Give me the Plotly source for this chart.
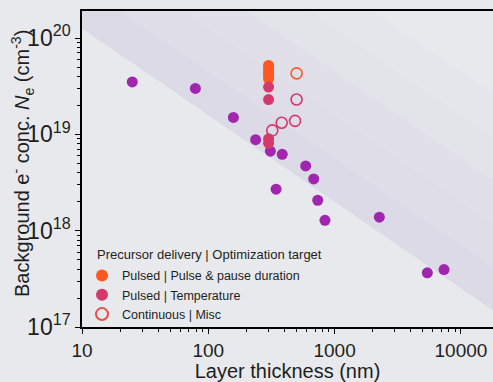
import numpy as np
import plotly.graph_objects as go

# Layer thickness (nm) and background electron concentration (cm^-3)
other_x = [25, 79, 158, 237, 310, 385, 344, 590, 683, 735, 839, 2260, 5420, 7350]
other_y = [3.5e19, 3.0e19, 1.5e19, 8.8e18, 6.7e18, 6.2e18, 2.7e18, 4.7e18, 3.45e18,
           2.07e18, 1.28e18, 1.38e18, 3.65e17, 3.95e17]

pulse_x = [300, 300, 300, 300, 300]
pulse_y = [5.2e19, 4.8e19, 4.4e19, 4.1e19, 3.8e19]

temp_x = [300, 300, 300, 300]
temp_y = [3.1e19, 2.3e19, 9.0e18, 8.1e18]

cont_hi_x = [500]
cont_hi_y = [4.3e19]
cont_x = [500, 486, 381, 321]
cont_y = [2.3e19, 1.38e19, 1.32e19, 1.1e19]

x_tickvals = [10, 100, 1000, 10000]
x_ticktext = ["10", "100", "1000", "10000"]
y_exponents = [17, 18, 19, 20]

# Trend line bounding the shaded region: log10(N) = a - b*(log10(t) - 1)
trend_a = 20.1
trend_b = 0.9

BG = "#e7e9ec"
PURPLE = "#a126ae"
ORANGE = "#ff5722"
CRIMSON = "#d6386a"
RED = "#e8504a"
TXT = "#1e1e1e"
FONT = "Arial, Liberation Sans, sans-serif"

X_RANGE = [1, 4.254]
Y_RANGE = [17, 20.281]

fig = go.Figure()

# Shaded band above the trend line: stacked translucent bands, densest at the line
lx = np.linspace(X_RANGE[0], X_RANGE[1] + 0.1, 50)
base = trend_a - trend_b * (lx - 1)
for width in np.arange(0.45, 2.5, 0.45):
    px = np.concatenate([10 ** lx, 10 ** lx[::-1]])
    py = np.concatenate([10 ** base, 10 ** (base + width)[::-1]])
    fig.add_trace(go.Scatter(x=px, y=py, mode="lines", fill="toself",
                             fillcolor="rgba(150,80,180,0.02)",
                             line=dict(width=0), hoverinfo="skip", showlegend=False))

fig.add_trace(go.Scatter(x=other_x, y=other_y, mode="markers",
                         marker=dict(color=PURPLE, size=11), showlegend=False))
fig.add_trace(go.Scatter(x=pulse_x, y=pulse_y, mode="markers",
                         marker=dict(color=ORANGE, size=11),
                         name="Pulsed | Pulse & pause duration"))
fig.add_trace(go.Scatter(x=temp_x, y=temp_y, mode="markers",
                         marker=dict(color=CRIMSON, size=11),
                         name="Pulsed | Temperature"))
fig.add_trace(go.Scatter(x=cont_hi_x, y=cont_hi_y, mode="markers",
                         marker=dict(symbol="circle-open", color=ORANGE, size=11,
                                     line=dict(width=1.6)),
                         showlegend=False))
fig.add_trace(go.Scatter(x=cont_x, y=cont_y, mode="markers",
                         marker=dict(symbol="circle-open", color=CRIMSON, size=11,
                                     line=dict(width=1.6)),
                         showlegend=False))
# Legend entry for the continuous-delivery series
fig.add_trace(go.Scatter(x=[None], y=[None], mode="markers",
                         marker=dict(symbol="circle-open", color=RED, size=11,
                                     line=dict(width=1.6)),
                         name="Continuous | Misc"))

axis_common = dict(
    type="log", showgrid=False, zeroline=False, showline=True,
    linecolor="black", linewidth=1.6, ticks="outside", ticklen=5,
    tickwidth=1.2, tickcolor="black",
    minor=dict(ticks="outside", ticklen=3, tickcolor="black", dtick="D1", showgrid=False),
)

fig.update_xaxes(**axis_common, range=X_RANGE, mirror=True,
                 tickvals=x_tickvals, ticktext=x_ticktext,
                 tickfont=dict(size=19, color=TXT, family=FONT),
                 title=dict(text="Layer thickness (nm)", standoff=4,
                            font=dict(size=20, color=TXT, family=FONT)))
fig.update_yaxes(**axis_common, range=Y_RANGE, mirror=False,
                 tickvals=[10.0 ** e for e in y_exponents],
                 ticktext=[f"10<sup>{e}</sup>" for e in y_exponents],
                 tickfont=dict(size=23, color=TXT, family=FONT))

# Y-axis title placed as a rotated annotation
fig.add_annotation(text="Background e<sup>-</sup> conc. <i>N</i><sub>e</sub> (cm<sup>-3</sup>)",
                   xref="paper", yref="paper", x=-0.1436, y=0.519,
                   xanchor="center", yanchor="middle", textangle=-90, showarrow=False,
                   font=dict(size=20, color=TXT, family=FONT))

fig.add_annotation(text="Precursor delivery | Optimization target",
                   xref="paper", yref="paper", x=0.0316, y=0.228,
                   xanchor="left", yanchor="middle", showarrow=False,
                   font=dict(size=13, color=TXT, family=FONT))

fig.update_layout(
    width=493, height=382,
    margin=dict(l=82, r=0, t=11, b=55),
    paper_bgcolor=BG, plot_bgcolor=BG,
    font=dict(family=FONT, color=TXT),
    showlegend=True,
    legend=dict(x=0.0, y=0.209, xanchor="left", yanchor="top",
                bgcolor="rgba(0,0,0,0)", font=dict(size=12.5, color=TXT, family=FONT),
                itemsizing="constant", itemwidth=30, tracegroupgap=0),
)

fig.write_html("out.html")
